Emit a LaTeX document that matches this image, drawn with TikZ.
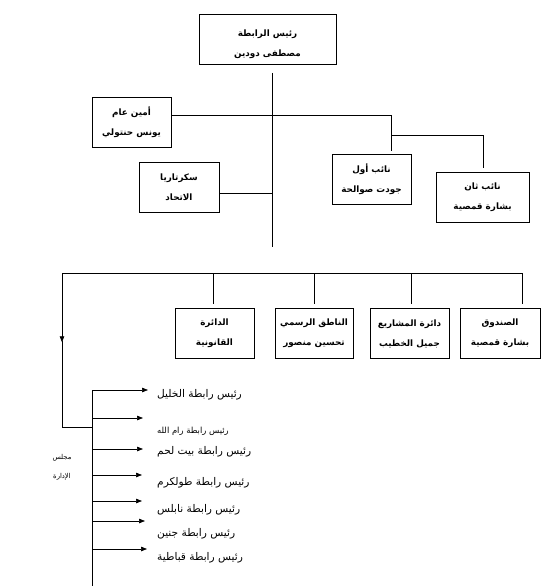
\documentclass[tikz,border=0pt]{standalone}
\usepackage{fontspec}
\newfontfamily\arabicfont[Script=Arabic]{DejaVu Sans}
\TeXXeTstate=1
\usetikzlibrary{arrows.meta,calc}
\newcommand{\arb}[1]{{\arabicfont\beginR #1\endR}}

\begin{document}
\begin{tikzpicture}[x=1pt,y=-1pt,
  box/.style={draw, line width=0.8pt, minimum height=50pt, inner sep=2pt, align=center,
    font=\arabicfont\bfseries\fontsize{8.8}{20}\selectfont},
  link/.style={line width=0.8pt},
  branch/.style={line width=0.7pt, -{Triangle[length=6pt,width=4.5pt]}},
  member/.style={anchor=west, inner sep=0pt},
  board/.style={inner sep=0pt, font=\arabicfont\fontsize{6.8}{8}\selectfont}]
\useasboundingbox (0,0) rectangle (544,586);

% boxes
\node[box, minimum width=137pt] (rais) at (267.5,39.5) {\rule{0pt}{17pt}\arb{رئيس الرابطة}\\\arb{مصطفى دودين}};
\node[box, minimum width=79pt] (amin) at (131.5,122) {\arb{أمين عام}\\\arb{يونس حنتولي}};
\node[box, minimum width=80pt] (sec) at (179,187.5) {\arb{سكرتاريا}\\\arb{الاتحاد}};
\node[box, minimum width=79pt] (naib1) at (371.5,179) {\arb{نائب أول}\\\arb{جودت صوالحة}};
\node[box, minimum width=93pt] (naib2) at (482.5,197.5) {\arb{نائب ثان}\\\arb{بشارة قمصية}};

\node[box, minimum width=79pt] (legal) at (214.5,333.5) {\arb{الدائرة}\\\arb{القانونية}};
\node[box, minimum width=78pt] (spokes) at (314,333.5) {\arb{الناطق الرسمي}\\\arb{تحسين منصور}};
\node[box, minimum width=79pt] (proj) at (409.5,333.5) {\arb{دائرة المشاريع}\\\arb{جميل الخطيب}};
\node[box, minimum width=80pt] (fund) at (500,333.5) {\arb{الصندوق}\\\arb{بشارة قمصية}};

% upper links
\coordinate (top) at ([xshift=4.5pt,yshift=-8pt]rais.south);
\coordinate (spine) at (272,247);
\draw[link] (top) -- (spine);

\coordinate (j1) at (391,115);
\draw[link, shorten >=3pt] (amin.east |- j1) -- (j1) -- (j1 |- naib1.north);
\coordinate (j2) at (391,135);
\coordinate (j3) at (483,135);
\draw[link, shorten >=4pt] (j2) -- (j3) -- (j3 |- naib2.north);
\coordinate (s) at (272,193);
\draw[link] (sec.east |- s) -- (s);

% lower links
\coordinate (bl) at (62,273);
\coordinate (br) at (522,273);
\draw[link] (bl) -- (br);
\foreach \n/\x in {legal/213, spokes/314, proj/411, fund/522}{
  \coordinate (d) at (\x,273);
  \draw[link, shorten >=4pt] (d) -- (d |- \n.north);
}

\coordinate (bend) at (62,427);
\coordinate (btop) at (92,390);
\coordinate (bbot) at (92,586);
\draw[link, -{Triangle[length=6pt,width=4.5pt]}] (bl) -- ($(bl)!0.45!(bend)$);
\draw[link] ($(bl)!0.44!(bend)$) -- (bend) -- (bend -| btop);
\draw[link] (btop) -- (bbot);

\node[board] (mg1) at (62,458) {\arb{مجلس}};
\node[board] (mg2) at (62,477) {\arb{الإدارة}};

\foreach \y/\e/\ly/\fs/\t in {390/148/395/10.6/الخليل, 418/143/431/8.4/رام الله, 449/143/452/10.6/بيت لحم,
  475/142/483/10.6/طولكرم, 501/142/510/10.6/نابلس, 521/145/534/10.6/جنين, 549/147/558/10.6/قباطية}{
  \coordinate (a\y) at (92,\y);
  \coordinate (e\y) at (\e,\y);
  \draw[branch] (a\y) -- (e\y);
  \node[member, font=\arabicfont\fontsize{\fs}{12}\selectfont] (m\y) at (157,\ly) {\arb{رئيس رابطة \t}};
}
\end{tikzpicture}
\end{document}
